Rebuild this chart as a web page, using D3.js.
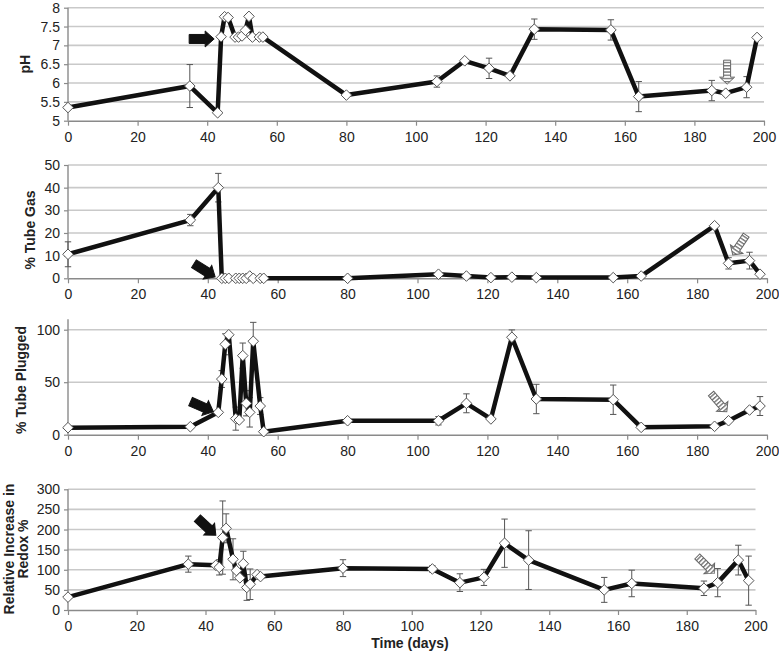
<!DOCTYPE html>
<html><head><meta charset="utf-8">
<script src="https://cdn.jsdelivr.net/npm/d3@7/dist/d3.min.js"></script>
<style>body{margin:0;background:#fff}svg{display:block;font-family:"Liberation Sans",Arial,Helvetica,sans-serif}</style>
</head><body>
<script>
// ---------- data ----------
const days = [0,35,43,44,45,46,48,49,50,51,52,53,55,56,80,106,114,121,127,134,156,164,185,189,195,198];

const pH     = [5.35,5.92,5.21,7.23,7.76,7.74,7.22,7.22,7.25,7.40,7.77,7.22,7.22,7.22,5.68,6.04,6.59,6.39,6.19,7.43,7.41,5.64,5.80,5.73,5.89,7.21];
const pHErr  = [0,0.57,0,0,0,0,0,0,0,0,0,0,0,0,0,0.15,0,0.27,0,0.27,0.27,0.40,0.27,0,0.28,0];

const gas    = [10.6,25.7,40.0,0,0,0,0,0,0,0,1.0,0,0,0,0,1.8,1.0,0.3,0.5,0.3,0.3,1.0,23.2,6.6,7.8,1.8];
const gasErr = [5.5,2.5,6.3,0,0,0,0,0,0,0,0,0,0,0,0,0,0,0,0,0,0,0,0,2.5,3.7,0];

const plugged    = [6.7,7.6,21.3,53,86.1,95.2,15.3,14,75.3,29.9,21.3,89,27.3,2.9,13.3,13.3,29.9,15,92.8,34,33.3,7,8,13.3,23.5,27.3];
const pluggedErr = [0,0,0,8,10,0,11,0,12,12,14,18,8,0,0,4,9,0,7,14,14,0,0,0,0,9];

const redox    = [32,114,111,106,180,203,126,98,80,115,56,64,88,83,104,102,68,81,166,124,50,66,54,68,124,73];
const redoxErr = [0,20,0,19,91,36,51,0,0,31,32,38,0,0,21,8,22,20,60,73,31,33,18,35,37,61];

const xTicks = [0,20,40,60,80,100,120,140,160,180,200];
const pHTicks = [5,5.5,6,6.5,7,7.5,8];
const gasTicks = [0,10,20,30,40,50];
const pluggedTicks = [0,50,100];
const redoxTicks = [0,50,100,150,200,250,300];

// arrows: tip in data units, angle (deg), type
const pHArrows      = [{day:42,  v:7.17, ang:0,    type:"solid"}, {day:189.4, v:5.97, ang:90,  type:"striped"}];
const gasArrows     = [{day:42.1,v:0.6,  ang:32,   type:"solid"}, {day:190.2, v:10.3, ang:124, type:"striped"}];
const pluggedArrows = [{day:41.6,v:21.9, ang:24,   type:"solid"}, {day:188.5, v:21.9, ang:49,  type:"striped"}];
const redoxArrows   = [{day:43,  v:186,  ang:42.5, type:"solid"}, {day:188,   v:91,   ang:45,  type:"striped"}];

// ---------- drawing ----------
const W = 779, H = 655;
const svg = d3.select("body").append("svg").attr("width", W).attr("height", H);

const defs = svg.append("defs");
const pat = defs.append("pattern").attr("id","stripes").attr("patternUnits","userSpaceOnUse")
  .attr("width",3.2).attr("height",20);
pat.append("rect").attr("width",3.2).attr("height",20).attr("fill","#fff");
pat.append("rect").attr("width",1.4).attr("height",20).attr("fill","#777");

const panels = [
  {vals:pH, err:pHErr, ticks:pHTicks, dom:[5,8], xr:[68,764], yr:[120.7,7.7], title:["pH"], tx:24.5, arrows:pHArrows},
  {vals:gas, err:gasErr, ticks:gasTicks, dom:[0,50], xr:[68,767], yr:[278.3,165], title:["% Tube Gas"], tx:30, ty:230, arrows:gasArrows},
  {vals:plugged, err:pluggedErr, ticks:pluggedTicks, dom:[0,110], xr:[68,767], yr:[434.7,319.2], title:["% Tube Plugged"], tx:20.5, ty:380, arrows:pluggedArrows},
  {vals:redox, err:redoxErr, ticks:redoxTicks, dom:[0,300], xr:[68,755.5], yr:[610,489.3], title:["Relative Increase in","Redox %"], tx:9, ty:549, arrows:redoxArrows}
];

panels.forEach((p, pi) => {
  const x = d3.scaleLinear().domain([0,200]).range(p.xr);
  const y = d3.scaleLinear().domain(p.dom).range(p.yr);
  const g = svg.append("g");

  // gridlines
  g.append("g").selectAll("line").data(p.ticks.filter(t => t !== p.dom[0])).join("line")
    .attr("x1", p.xr[0]).attr("x2", p.xr[1])
    .attr("y1", d => y(d)).attr("y2", d => y(d))
    .attr("stroke", "#c9c9c9").attr("stroke-width", 1.6);

  // axes
  const xa = g.append("g").attr("transform", `translate(0,${p.yr[0]})`)
    .call(d3.axisBottom(x).tickValues(xTicks).tickSize(5).tickPadding(6).tickSizeOuter(0));
  const ya = g.append("g").attr("transform", `translate(${p.xr[0]},0)`)
    .call(d3.axisLeft(y).tickValues(p.ticks).tickSize(4).tickPadding(4).tickSizeOuter(0).tickFormat(d => String(d)));
  [xa, ya].forEach(a => {
    a.select(".domain").attr("stroke", "#8a8a8a").attr("stroke-width", 1.4);
    a.selectAll(".tick line").attr("stroke", "#8a8a8a").attr("stroke-width", 1.2);
    a.selectAll(".tick text").attr("fill", "#222").style("font-size", "14px")
      .style("font-family", '"Liberation Sans", Arial, sans-serif');
  });
  // y axis extends to domain top
  ya.select(".domain").attr("d", `M0,${p.yr[0]}V${p.yr[1]}`);

  // y title
  const cy = p.ty !== undefined ? p.ty : (p.yr[0] + p.yr[1]) / 2;
  p.title.forEach((t, i) => {
    g.append("text").attr("transform", `translate(${p.tx + i * 13.5},${cy}) rotate(-90)`)
      .attr("text-anchor", "middle").attr("dominant-baseline", "central")
      .style("font-size", "14px").style("font-weight", "bold").attr("fill", "#222").text(t);
  });

  const pts = days.map((d, i) => ({d, v: p.vals[i], e: p.err[i]}));

  // error bars
  const eb = g.append("g").attr("stroke", "#555").attr("stroke-width", 1).attr("fill", "none");
  pts.filter(o => o.e > 0).forEach(o => {
    const X = x(o.d), y1 = y(o.v + o.e), y2 = y(Math.max(p.dom[0] - 100, o.v - o.e));
    eb.append("path").attr("d", `M${X},${y1}V${y2}M${X-3.2},${y1}h6.4M${X-3.2},${y2}h6.4`);
  });

  // line
  g.append("path").datum(pts)
    .attr("d", d3.line().x(o => x(o.d)).y(o => y(o.v)))
    .attr("fill", "none").attr("stroke", "#111").attr("stroke-width", 4.5).attr("stroke-linejoin", "round");

  // markers
  g.append("g").selectAll("path").data(pts).join("path")
    .attr("transform", o => `translate(${x(o.d)},${y(o.v)})`)
    .attr("d", "M0,-5.3L5.3,0L0,5.3L-5.3,0Z")
    .attr("fill", "#fff").attr("stroke", "#555").attr("stroke-width", 1);

  // arrows
  p.arrows.forEach(a => {
    const solid = a.type === "solid";
    const L = solid ? 25 : 24, sw = solid ? 4.5 : 3.5, hw = solid ? 8 : 7.5, hl = solid ? 9 : 7;
    g.append("path")
      .attr("transform", `translate(${x(a.day)},${y(a.v)}) rotate(${a.ang})`)
      .attr("d", `M0,0L${-hl},${-hw}L${-hl},${-sw}L${-L},${-sw}L${-L},${sw}L${-hl},${sw}L${-hl},${hw}Z`)
      .attr("fill", solid ? "#111" : "url(#stripes)")
      .attr("stroke", solid ? "#111" : "#666").attr("stroke-width", 1);
  });
});

// x title
svg.append("text").attr("x", 410).attr("y", 648).attr("text-anchor", "middle")
  .style("font-size", "14px").style("font-weight", "bold").attr("fill", "#222").text("Time (days)");
</script>
</body></html>
